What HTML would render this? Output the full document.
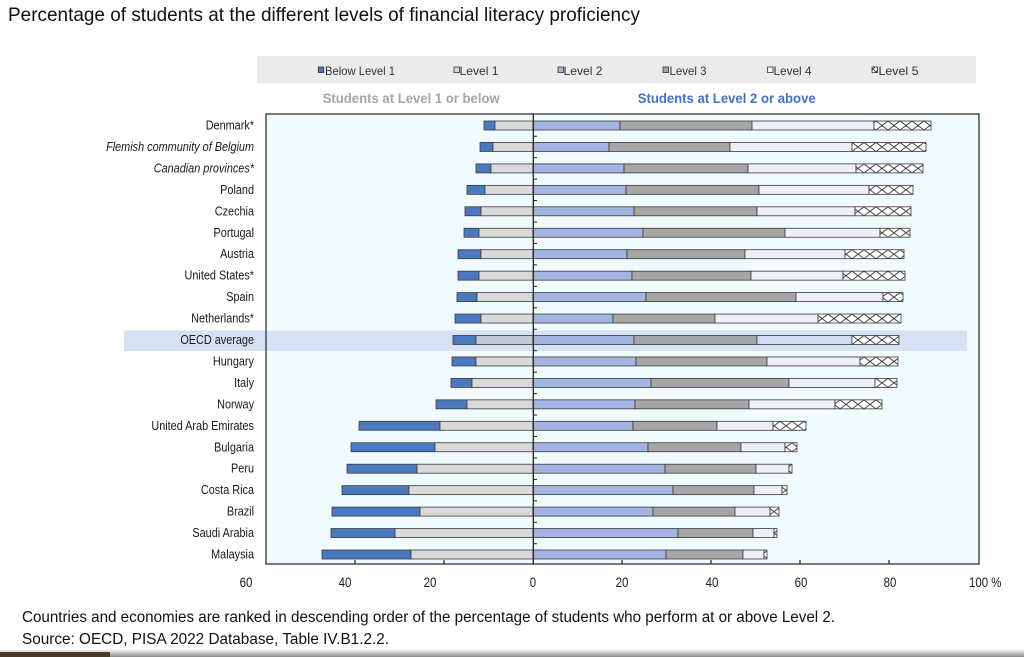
<!DOCTYPE html>
<html><head><meta charset="utf-8"><style>
html,body{margin:0;padding:0;background:#fff;}
svg{display:block;}
text{font-family:"Liberation Sans",Arial,sans-serif;}
</style></head><body>
<svg width="1024" height="657" viewBox="0 0 1024 657" xmlns="http://www.w3.org/2000/svg">
<defs>
<pattern id="hx" patternUnits="userSpaceOnUse" width="12" height="9">
<rect width="12" height="9" fill="#fff"/>
<path d="M0,0 L12,9 M12,0 L0,9" stroke="#333" stroke-width="0.9" fill="none"/>
</pattern>
<pattern id="hl" patternUnits="userSpaceOnUse" width="6" height="6">
<rect width="6" height="6" fill="#fff"/>
<path d="M0,0 L6,6 M6,0 L0,6" stroke="#333" stroke-width="0.8" fill="none"/>
</pattern>
<linearGradient id="bot" x1="0" y1="0" x2="0" y2="1">
<stop offset="0" stop-color="#ffffff"/><stop offset="1" stop-color="#8a8a8a"/>
</linearGradient>
</defs>
<rect width="1024" height="657" fill="#fff"/>

<text x="8" y="21" font-size="19.5" fill="#111" textLength="632" lengthAdjust="spacingAndGlyphs">Percentage of students at the different levels of financial literacy proficiency</text>

<!-- legend band -->
<rect x="257" y="56" width="719" height="27.5" fill="#ebebeb"/>
<g font-size="12" fill="#333">
<rect x="318.3" y="67" width="5.5" height="5.5" fill="#4b79c0" stroke="#333" stroke-width="0.8"/>
<text x="325" y="75" textLength="70" lengthAdjust="spacingAndGlyphs">Below Level 1</text>
<rect x="454" y="67" width="5.5" height="5.5" fill="#d9d9d9" stroke="#333" stroke-width="0.8"/>
<text x="459.5" y="75" textLength="39" lengthAdjust="spacingAndGlyphs">Level 1</text>
<rect x="558" y="67" width="5.5" height="5.5" fill="#a3b4e2" stroke="#333" stroke-width="0.8"/>
<text x="563.5" y="75" textLength="39" lengthAdjust="spacingAndGlyphs">Level 2</text>
<rect x="663" y="67" width="5.5" height="5.5" fill="#a6a6a6" stroke="#333" stroke-width="0.8"/>
<text x="669.5" y="75" textLength="37" lengthAdjust="spacingAndGlyphs">Level 3</text>
<rect x="767.5" y="67" width="5.5" height="5.5" fill="#f4f5fa" stroke="#333" stroke-width="0.8"/>
<text x="773.5" y="75" textLength="38" lengthAdjust="spacingAndGlyphs">Level 4</text>
<rect x="872" y="67" width="5.5" height="5.5" fill="url(#hl)" stroke="#333" stroke-width="0.8"/>
<text x="878.5" y="75" textLength="40" lengthAdjust="spacingAndGlyphs">Level 5</text>
</g>

<text x="322.7" y="103" font-size="14" font-weight="bold" fill="#a6a6a6" textLength="177" lengthAdjust="spacingAndGlyphs">Students at Level 1 or below</text>
<text x="637.7" y="103" font-size="14" font-weight="bold" fill="#4472c4" textLength="178" lengthAdjust="spacingAndGlyphs">Students at Level 2 or above</text>

<!-- plot area -->
<rect x="266" y="114" width="713" height="450" fill="#f1fbfd"/>
<!-- OECD highlight -->
<rect x="124" y="330.5" width="843" height="20.5" fill="#d6e1f3"/>

<!-- rows -->
<g stroke="#3a3a3a" stroke-width="0.8">
<g transform="translate(0,121)">
<rect x="484" y="0" width="11" height="9" fill="#4b79c0"/><rect x="495" y="0" width="38" height="9" fill="#d9d9d9"/>
<rect x="533" y="0" width="87" height="9" fill="#a3b4e2"/><rect x="620" y="0" width="132" height="9" fill="#a6a6a6"/>
<rect x="752" y="0" width="122" height="9" fill="#eef0f8"/><rect x="874" y="0" width="57" height="9" fill="url(#hx)"/>
</g>
<g transform="translate(0,142.45)">
<rect x="480" y="0" width="13" height="9" fill="#4b79c0"/><rect x="493" y="0" width="40" height="9" fill="#d9d9d9"/>
<rect x="533" y="0" width="76" height="9" fill="#a3b4e2"/><rect x="609" y="0" width="121" height="9" fill="#a6a6a6"/>
<rect x="730" y="0" width="122" height="9" fill="#eef0f8"/><rect x="852" y="0" width="74" height="9" fill="url(#hx)"/>
</g>
<g transform="translate(0,163.9)">
<rect x="476" y="0" width="15" height="9" fill="#4b79c0"/><rect x="491" y="0" width="42" height="9" fill="#d9d9d9"/>
<rect x="533" y="0" width="91" height="9" fill="#a3b4e2"/><rect x="624" y="0" width="124" height="9" fill="#a6a6a6"/>
<rect x="748" y="0" width="108" height="9" fill="#eef0f8"/><rect x="856" y="0" width="67" height="9" fill="url(#hx)"/>
</g>
<g transform="translate(0,185.35)">
<rect x="467" y="0" width="18" height="9" fill="#4b79c0"/><rect x="485" y="0" width="48" height="9" fill="#d9d9d9"/>
<rect x="533" y="0" width="93" height="9" fill="#a3b4e2"/><rect x="626" y="0" width="133" height="9" fill="#a6a6a6"/>
<rect x="759" y="0" width="110" height="9" fill="#eef0f8"/><rect x="869" y="0" width="44" height="9" fill="url(#hx)"/>
</g>
<g transform="translate(0,206.8)">
<rect x="465" y="0" width="16" height="9" fill="#4b79c0"/><rect x="481" y="0" width="52" height="9" fill="#d9d9d9"/>
<rect x="533" y="0" width="101" height="9" fill="#a3b4e2"/><rect x="634" y="0" width="123" height="9" fill="#a6a6a6"/>
<rect x="757" y="0" width="98" height="9" fill="#eef0f8"/><rect x="855" y="0" width="56" height="9" fill="url(#hx)"/>
</g>
<g transform="translate(0,228.25)">
<rect x="464" y="0" width="15" height="9" fill="#4b79c0"/><rect x="479" y="0" width="54" height="9" fill="#d9d9d9"/>
<rect x="533" y="0" width="110" height="9" fill="#a3b4e2"/><rect x="643" y="0" width="142" height="9" fill="#a6a6a6"/>
<rect x="785" y="0" width="95" height="9" fill="#eef0f8"/><rect x="880" y="0" width="30" height="9" fill="url(#hx)"/>
</g>
<g transform="translate(0,249.7)">
<rect x="458" y="0" width="23" height="9" fill="#4b79c0"/><rect x="481" y="0" width="52" height="9" fill="#d9d9d9"/>
<rect x="533" y="0" width="94" height="9" fill="#a3b4e2"/><rect x="627" y="0" width="118" height="9" fill="#a6a6a6"/>
<rect x="745" y="0" width="100" height="9" fill="#eef0f8"/><rect x="845" y="0" width="59" height="9" fill="url(#hx)"/>
</g>
<g transform="translate(0,271.15)">
<rect x="458" y="0" width="21" height="9" fill="#4b79c0"/><rect x="479" y="0" width="54" height="9" fill="#d9d9d9"/>
<rect x="533" y="0" width="99" height="9" fill="#a3b4e2"/><rect x="632" y="0" width="119" height="9" fill="#a6a6a6"/>
<rect x="751" y="0" width="92" height="9" fill="#eef0f8"/><rect x="843" y="0" width="62" height="9" fill="url(#hx)"/>
</g>
<g transform="translate(0,292.6)">
<rect x="457" y="0" width="20" height="9" fill="#4b79c0"/><rect x="477" y="0" width="56" height="9" fill="#d9d9d9"/>
<rect x="533" y="0" width="113" height="9" fill="#a3b4e2"/><rect x="646" y="0" width="150" height="9" fill="#a6a6a6"/>
<rect x="796" y="0" width="87" height="9" fill="#eef0f8"/><rect x="883" y="0" width="20" height="9" fill="url(#hx)"/>
</g>
<g transform="translate(0,314.05)">
<rect x="455" y="0" width="26" height="9" fill="#4b79c0"/><rect x="481" y="0" width="52" height="9" fill="#d9d9d9"/>
<rect x="533" y="0" width="80" height="9" fill="#a3b4e2"/><rect x="613" y="0" width="102" height="9" fill="#a6a6a6"/>
<rect x="715" y="0" width="103" height="9" fill="#eef0f8"/><rect x="818" y="0" width="83" height="9" fill="url(#hx)"/>
</g>
<g transform="translate(0,335.5)">
<rect x="453" y="0" width="23" height="9" fill="#4b79c0"/><rect x="476" y="0" width="57" height="9" fill="#c4c8d0"/>
<rect x="533" y="0" width="101" height="9" fill="#a3b4e2"/><rect x="634" y="0" width="123" height="9" fill="#a3a6ad"/>
<rect x="757" y="0" width="95" height="9" fill="#d0dcf1"/><rect x="852" y="0" width="47" height="9" fill="url(#hx)"/>
</g>
<g transform="translate(0,356.95)">
<rect x="452" y="0" width="24" height="9" fill="#4b79c0"/><rect x="476" y="0" width="57" height="9" fill="#d9d9d9"/>
<rect x="533" y="0" width="103" height="9" fill="#a3b4e2"/><rect x="636" y="0" width="131" height="9" fill="#a6a6a6"/>
<rect x="767" y="0" width="93" height="9" fill="#eef0f8"/><rect x="860" y="0" width="38" height="9" fill="url(#hx)"/>
</g>
<g transform="translate(0,378.4)">
<rect x="451" y="0" width="21" height="9" fill="#4b79c0"/><rect x="472" y="0" width="61" height="9" fill="#d9d9d9"/>
<rect x="533" y="0" width="118" height="9" fill="#a3b4e2"/><rect x="651" y="0" width="138" height="9" fill="#a6a6a6"/>
<rect x="789" y="0" width="86" height="9" fill="#eef0f8"/><rect x="875" y="0" width="22" height="9" fill="url(#hx)"/>
</g>
<g transform="translate(0,399.85)">
<rect x="436" y="0" width="31" height="9" fill="#4b79c0"/><rect x="467" y="0" width="66" height="9" fill="#d9d9d9"/>
<rect x="533" y="0" width="102" height="9" fill="#a3b4e2"/><rect x="635" y="0" width="114" height="9" fill="#a6a6a6"/>
<rect x="749" y="0" width="86" height="9" fill="#eef0f8"/><rect x="835" y="0" width="47" height="9" fill="url(#hx)"/>
</g>
<g transform="translate(0,421.3)">
<rect x="359" y="0" width="81" height="9" fill="#4b79c0"/><rect x="440" y="0" width="93" height="9" fill="#d9d9d9"/>
<rect x="533" y="0" width="100" height="9" fill="#a3b4e2"/><rect x="633" y="0" width="84" height="9" fill="#a6a6a6"/>
<rect x="717" y="0" width="56" height="9" fill="#eef0f8"/><rect x="773" y="0" width="33" height="9" fill="url(#hx)"/>
</g>
<g transform="translate(0,442.75)">
<rect x="351" y="0" width="84" height="9" fill="#4b79c0"/><rect x="435" y="0" width="98" height="9" fill="#d9d9d9"/>
<rect x="533" y="0" width="115" height="9" fill="#a3b4e2"/><rect x="648" y="0" width="93" height="9" fill="#a6a6a6"/>
<rect x="741" y="0" width="44" height="9" fill="#eef0f8"/><rect x="785" y="0" width="12" height="9" fill="url(#hx)"/>
</g>
<g transform="translate(0,464.2)">
<rect x="347" y="0" width="70" height="9" fill="#4b79c0"/><rect x="417" y="0" width="116" height="9" fill="#d9d9d9"/>
<rect x="533" y="0" width="132" height="9" fill="#a3b4e2"/><rect x="665" y="0" width="91" height="9" fill="#a6a6a6"/>
<rect x="756" y="0" width="33" height="9" fill="#eef0f8"/><rect x="789" y="0" width="3" height="9" fill="url(#hx)"/>
</g>
<g transform="translate(0,485.65)">
<rect x="342" y="0" width="67" height="9" fill="#4b79c0"/><rect x="409" y="0" width="124" height="9" fill="#d9d9d9"/>
<rect x="533" y="0" width="140" height="9" fill="#a3b4e2"/><rect x="673" y="0" width="81" height="9" fill="#a6a6a6"/>
<rect x="754" y="0" width="28" height="9" fill="#eef0f8"/><rect x="782" y="0" width="5" height="9" fill="url(#hx)"/>
</g>
<g transform="translate(0,507.1)">
<rect x="332" y="0" width="88" height="9" fill="#4b79c0"/><rect x="420" y="0" width="113" height="9" fill="#d9d9d9"/>
<rect x="533" y="0" width="120" height="9" fill="#a3b4e2"/><rect x="653" y="0" width="82" height="9" fill="#a6a6a6"/>
<rect x="735" y="0" width="35" height="9" fill="#eef0f8"/><rect x="770" y="0" width="9" height="9" fill="url(#hx)"/>
</g>
<g transform="translate(0,528.55)">
<rect x="331" y="0" width="64" height="9" fill="#4b79c0"/><rect x="395" y="0" width="138" height="9" fill="#d9d9d9"/>
<rect x="533" y="0" width="145" height="9" fill="#a3b4e2"/><rect x="678" y="0" width="75" height="9" fill="#a6a6a6"/>
<rect x="753" y="0" width="21" height="9" fill="#eef0f8"/><rect x="774" y="0" width="3" height="9" fill="url(#hx)"/>
</g>
<g transform="translate(0,550)">
<rect x="322" y="0" width="89" height="9" fill="#4b79c0"/><rect x="411" y="0" width="122" height="9" fill="#d9d9d9"/>
<rect x="533" y="0" width="133" height="9" fill="#a3b4e2"/><rect x="666" y="0" width="77" height="9" fill="#a6a6a6"/>
<rect x="743" y="0" width="21" height="9" fill="#eef0f8"/><rect x="764" y="0" width="3" height="9" fill="url(#hx)"/>
</g>
</g>

<!-- country labels -->
<g font-size="12.5" fill="#1a1a1a" text-anchor="end">
<g transform="translate(254,129.5) scale(0.87,1)"><text>Denmark*</text></g>
<g transform="translate(254,150.95) scale(0.87,1)"><text font-style="italic">Flemish community of Belgium</text></g>
<g transform="translate(254,172.4) scale(0.87,1)"><text font-style="italic">Canadian provinces*</text></g>
<g transform="translate(254,193.85) scale(0.87,1)"><text>Poland</text></g>
<g transform="translate(254,215.3) scale(0.87,1)"><text>Czechia</text></g>
<g transform="translate(254,236.75) scale(0.87,1)"><text>Portugal</text></g>
<g transform="translate(254,258.2) scale(0.87,1)"><text>Austria</text></g>
<g transform="translate(254,279.65) scale(0.87,1)"><text>United States*</text></g>
<g transform="translate(254,301.1) scale(0.87,1)"><text>Spain</text></g>
<g transform="translate(254,322.55) scale(0.87,1)"><text>Netherlands*</text></g>
<g transform="translate(254,344) scale(0.87,1)"><text>OECD average</text></g>
<g transform="translate(254,365.45) scale(0.87,1)"><text>Hungary</text></g>
<g transform="translate(254,386.9) scale(0.87,1)"><text>Italy</text></g>
<g transform="translate(254,408.35) scale(0.87,1)"><text>Norway</text></g>
<g transform="translate(254,429.8) scale(0.87,1)"><text>United Arab Emirates</text></g>
<g transform="translate(254,451.25) scale(0.87,1)"><text>Bulgaria</text></g>
<g transform="translate(254,472.7) scale(0.87,1)"><text>Peru</text></g>
<g transform="translate(254,494.15) scale(0.87,1)"><text>Costa Rica</text></g>
<g transform="translate(254,515.6) scale(0.87,1)"><text>Brazil</text></g>
<g transform="translate(254,537.05) scale(0.87,1)"><text>Saudi Arabia</text></g>
<g transform="translate(254,558.5) scale(0.87,1)"><text>Malaysia</text></g>
</g>

<!-- plot frame -->
<rect x="266" y="114" width="713" height="450" fill="none" stroke="#333" stroke-width="1.3"/>
<line x1="533.3" y1="114" x2="533.3" y2="564" stroke="#222" stroke-width="1.3"/>
<!-- category ticks -->
<g stroke="#222" stroke-width="1">
<line x1="533" x2="537" y1="136.2" y2="136.2"/><line x1="533" x2="537" y1="157.65" y2="157.65"/>
<line x1="533" x2="537" y1="179.1" y2="179.1"/><line x1="533" x2="537" y1="200.55" y2="200.55"/>
<line x1="533" x2="537" y1="222" y2="222"/><line x1="533" x2="537" y1="243.45" y2="243.45"/>
<line x1="533" x2="537" y1="264.9" y2="264.9"/><line x1="533" x2="537" y1="286.35" y2="286.35"/>
<line x1="533" x2="537" y1="307.8" y2="307.8"/><line x1="533" x2="537" y1="329.25" y2="329.25"/>
<line x1="533" x2="537" y1="350.7" y2="350.7"/><line x1="533" x2="537" y1="372.15" y2="372.15"/>
<line x1="533" x2="537" y1="393.6" y2="393.6"/><line x1="533" x2="537" y1="415.05" y2="415.05"/>
<line x1="533" x2="537" y1="436.5" y2="436.5"/><line x1="533" x2="537" y1="457.95" y2="457.95"/>
<line x1="533" x2="537" y1="479.4" y2="479.4"/><line x1="533" x2="537" y1="500.85" y2="500.85"/>
<line x1="533" x2="537" y1="522.3" y2="522.3"/><line x1="533" x2="537" y1="543.75" y2="543.75"/>
</g>
<!-- x ticks -->
<g stroke="#222" stroke-width="1.2">
<line x1="355" x2="355" y1="560" y2="564"/><line x1="444" x2="444" y1="560" y2="564"/>
<line x1="622" x2="622" y1="560" y2="564"/><line x1="711" x2="711" y1="560" y2="564"/>
<line x1="800" x2="800" y1="560" y2="564"/><line x1="889" x2="889" y1="560" y2="564"/>
</g>
<!-- x labels -->
<g font-size="13.5" fill="#1a1a1a" text-anchor="middle">
<g transform="translate(246,587) scale(0.85,1)"><text>60</text></g>
<g transform="translate(345,587) scale(0.85,1)"><text>40</text></g>
<g transform="translate(430,587) scale(0.85,1)"><text>20</text></g>
<g transform="translate(533,587) scale(0.85,1)"><text>0</text></g>
<g transform="translate(622,587) scale(0.85,1)"><text>20</text></g>
<g transform="translate(712,587) scale(0.85,1)"><text>40</text></g>
<g transform="translate(801,587) scale(0.85,1)"><text>60</text></g>
<g transform="translate(890,587) scale(0.85,1)"><text>80</text></g>
<g transform="translate(969,587) scale(0.85,1)"><text text-anchor="start">100 %</text></g>
</g>

<!-- footnotes -->
<text x="22" y="622" font-size="15.5" fill="#111" textLength="813" lengthAdjust="spacingAndGlyphs">Countries and economies are ranked in descending order of the percentage of students who perform at or above Level 2.</text>
<text x="22" y="644" font-size="15.5" fill="#111" textLength="367" lengthAdjust="spacingAndGlyphs">Source: OECD, PISA 2022 Database, Table IV.B1.2.2.</text>

<!-- bottom edge shadow -->
<rect x="0" y="649" width="1024" height="8" fill="url(#bot)"/>
<rect x="0" y="652" width="110" height="5" fill="#4a3a28"/>
</svg>
</body></html>
